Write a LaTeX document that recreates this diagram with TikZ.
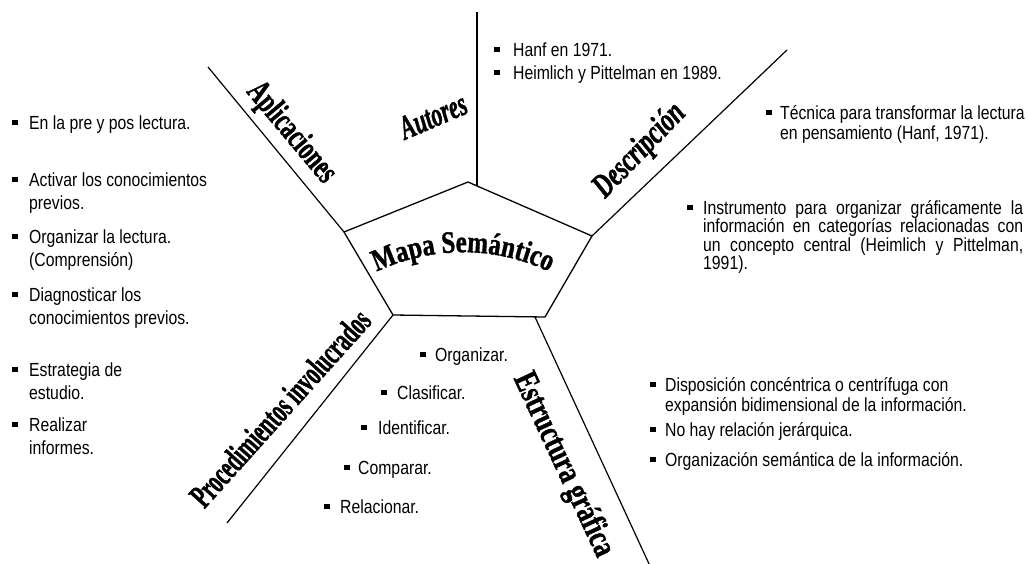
\documentclass[tikz,border=0pt]{standalone}
\usepackage{fontspec}
\setmainfont{Liberation Sans}
\newfontfamily\itemfont[FakeStretch=0.83]{Liberation Sans}
\newfontfamily\titlefont[FakeStretch=0.8,BoldFeatures={FakeBold=1.2}]{Liberation Serif}
\newfontfamily\lblfont[BoldFeatures={FakeBold=1.5},BoldItalicFeatures={FakeBold=1.5}]{Liberation Serif}
\usetikzlibrary{decorations.text}
\newcommand{\sq}{\rule[3.6pt]{5.5pt}{5.5pt}}
\newcommand{\itm}[2]{\makebox[#1][l]{\sq}\begin{tabular}[t]{@{}l@{}}#2\end{tabular}}
\tikzset{
  edge/.style={line width=1.3pt, line join=round},
  ray/.style={line width=1.2pt},
  item/.style={anchor=base west, inner sep=0pt, font=\itemfont\fontsize{19}{23}\selectfont},
  lbl/.style={inner sep=0pt, font=\lblfont\bfseries\fontsize{34}{34}\selectfont},
}
\begin{document}
\begin{tikzpicture}[x=1pt,y=-1pt]
\useasboundingbox (0,0) rectangle (1028,563);
\fill[white] (0,0) rectangle (1028,563);
% pentagon
\coordinate (vT) at (468,182);
\coordinate (vR) at (592,236);
\coordinate (vBR) at (545,317);
\coordinate (vBL) at (393,315);
\coordinate (vL) at (344,232);
\draw[edge] (vT) -- (vR) -- (vBR) -- (vBL) -- (vL) -- cycle;
% rays
\coordinate (eTb) at (477,186);
\coordinate (eT) at (477,12);
\coordinate (eR) at (787,50);
\coordinate (eL) at (208,67);
\coordinate (eBL) at (227,523);
\coordinate (eBRs) at (535,317);
\coordinate (eBR) at (650,566);
\draw[ray] (eTb) -- (eT);
\draw[ray] (vR) -- (eR);
\draw[ray] (vL) -- (eL);
\draw[ray] (vBL) -- (eBL);
\draw[ray] (eBRs) -- (eBR);
% title
\coordinate (tc) at (463,452);
\path[decorate, decoration={text along path, text align=center,
  text={|\titlefont\bfseries\fontsize{31}{31}\selectfont|Mapa Semántico}}]
  (363,279) arc[start angle=-120, end angle=-60, radius=200];
% labels
\node[lbl, rotate=-50] (lApl) at (291,133) {\scalebox{0.66}[1]{Aplicaciones}};
\node[lbl, rotate=23] (lAut) at (433,116) {\scalebox{0.64}[1]{\itshape Autores}};
\node[lbl, rotate=46] (lDes) at (640,151) {\scalebox{0.7}[1]{\itshape Descripción}};
\node[lbl, rotate=48] (lPro) at (280,408) {\scalebox{0.6}[1]{Procedimientos involucrados}};
\node[lbl, rotate=-65] (lEst) at (563,465) {\scalebox{0.74}[1]{Estructura gráfica}};
% Aplicaciones items
\node[item] (a1) at (12,129) {\itm{17pt}{En la pre y pos lectura.}};
\node[item] (a2) at (12,186) {\itm{17pt}{Activar los conocimientos\\previos.}};
\node[item] (a3) at (12,243) {\itm{17pt}{Organizar la lectura.\\(Comprensión)}};
\node[item] (a4) at (12,301) {\itm{17pt}{Diagnosticar los\\conocimientos previos.}};
\node[item] (a5) at (12,376) {\itm{17pt}{Estrategia de\\estudio.}};
\node[item] (a6) at (12,431) {\itm{17pt}{Realizar\\informes.}};
% Autores items
\node[item] (b1) at (494,56) {\itm{19pt}{Hanf en 1971.}};
\node[item] (b2) at (494,79) {\itm{19pt}{Heimlich y Pittelman en 1989.}};
% Descripcion items
\node[item, font=\itemfont\fontsize{19}{20}\selectfont] (c1) at (766,119)
  {\itm{14pt}{Técnica para transformar la lectura\\en pensamiento (Hanf, 1971).}};
\node[item, font=\itemfont\fontsize{19}{18.5}\selectfont] (c2) at (687,214)
  {\makebox[16pt][l]{\sq}\parbox[t]{320pt}{\hyphenpenalty=10000
  Instrumento para organizar gráficamente la\linebreak
  información en categorías relacionadas con\linebreak
  un concepto central (Heimlich y Pittelman,\linebreak
  1991).}};
% Procedimientos items
\node[item] (d1) at (420,361) {\itm{15pt}{Organizar.}};
\node[item] (d2) at (381,399) {\itm{16pt}{Clasificar.}};
\node[item] (d3) at (361,434) {\itm{17pt}{Identificar.}};
\node[item] (d4) at (344,474) {\itm{14pt}{Comparar.}};
\node[item] (d5) at (324,513) {\itm{16pt}{Relacionar.}};
% Estructura items
\node[item, font=\itemfont\fontsize{19}{20}\selectfont] (e1) at (650,391)
  {\itm{15pt}{Disposición concéntrica o centrífuga con\\expansión bidimensional de la información.}};
\node[item] (e2) at (650,436) {\itm{15pt}{No hay relación jerárquica.}};
\node[item] (e3) at (650,466) {\itm{15pt}{Organización semántica de la información.}};
\end{tikzpicture}
\end{document}
